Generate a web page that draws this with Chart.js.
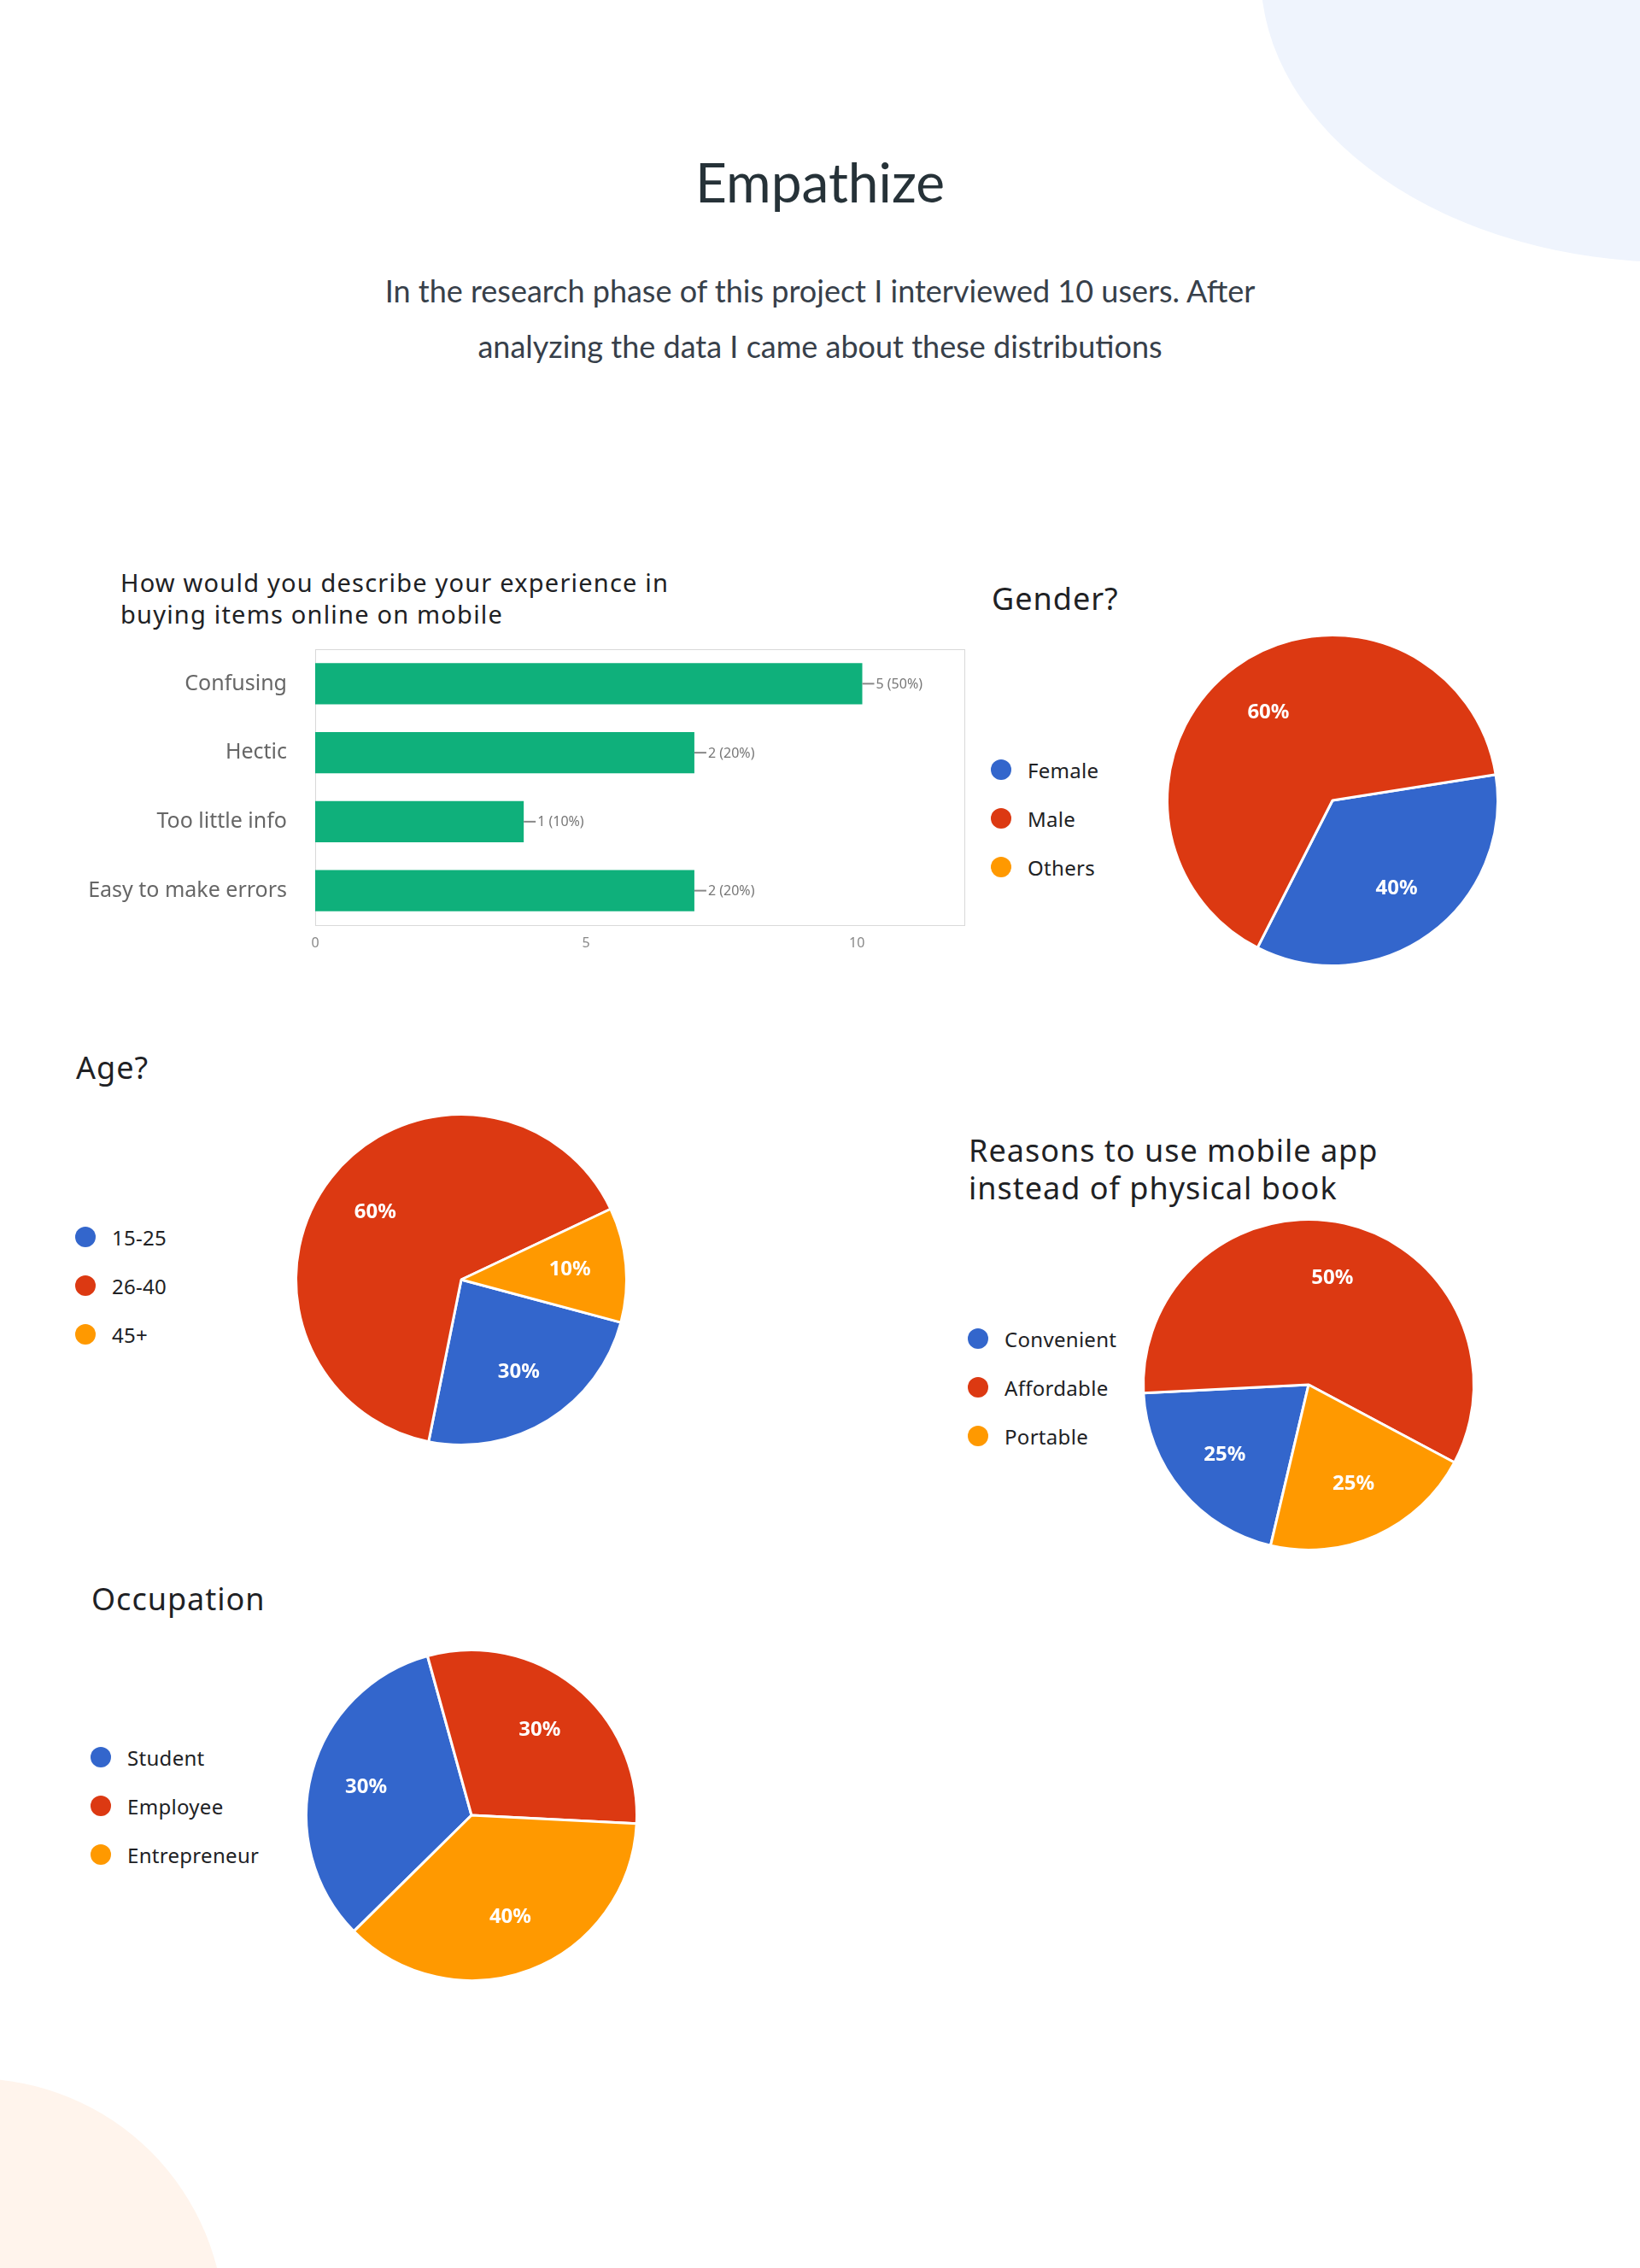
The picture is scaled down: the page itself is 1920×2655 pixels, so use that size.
<!DOCTYPE html>
<html>
<head>
<meta charset="utf-8">
<title>Empathize</title>
<script src="https://cdn.jsdelivr.net/npm/chart.js@4.4.1/dist/chart.umd.min.js"></script>
<style>
  html, body { margin: 0; padding: 0; }
  body {
    width: 1920px; height: 2655px; position: relative; overflow: hidden;
    background: #fff; font-family: "Noto Sans", sans-serif; color: #202124;
  }
  .blob-top { position: absolute; left: 1476px; top: -367px; width: 968px; height: 674px;
    border-radius: 50%; background: #eff4fd; }
  .blob-bottom { position: absolute; left: -325px; top: 2433px; width: 588px; height: 588px;
    border-radius: 50%; background: #fff4ec; }
  h1 { position: absolute; left: 0; top: 181px; width: 1920px; margin: 0; text-align: center;
    font: 400 64px/1 Lato, sans-serif; color: #263238; }
  .intro { position: absolute; left: 0; top: 308px; width: 1920px; margin: 0; text-align: center;
    font: 400 36px/65px Lato, sans-serif; color: #37404a; }
  .q { position: absolute; margin: 0; font-weight: 400; color: #202124; letter-spacing: 1px; }
  .q.big { font-size: 36px; line-height: 1; }
  canvas { position: absolute; }
  .legend { position: absolute; }
  .legend div { display: flex; align-items: center; height: 30px; margin-bottom: 27px;
    font-size: 24px; color: #202124; letter-spacing: 0.3px; }
  .legend span.dot { width: 24px; height: 24px; border-radius: 50%; margin-right: 19px; flex: none; }
</style>
</head>
<body>
<div class="blob-top"></div>
<div class="blob-bottom"></div>

<h1>Empathize</h1>
<p class="intro">In the research phase of this project I interviewed 10 users. After<br>analyzing the data I came about these distributions</p>

<p class="q" style="left:141px; top:663px; font-size:29px; line-height:37px; letter-spacing:1.2px;">How would you describe your experience in<br>buying items online on mobile</p>
<canvas id="barChart" width="1070" height="390" style="left:80px; top:741px;"></canvas>

<p class="q big" style="left:1161px; top:683px;">Gender?</p>
<div class="legend" id="genderLegend" style="left:1160px; top:886px;"></div>
<canvas id="genderChart" width="400" height="400" style="left:1360px; top:737px;"></canvas>

<p class="q big" style="left:89px; top:1232px;">Age?</p>
<div class="legend" id="ageLegend" style="left:88px; top:1433px;"></div>
<canvas id="ageChart" width="400" height="400" style="left:340px; top:1298px;"></canvas>

<p class="q" style="left:1134px; top:1325px; font-size:36px; line-height:44px;">Reasons to use mobile app<br>instead of physical book</p>
<div class="legend" id="reasonLegend" style="left:1133px; top:1552px;"></div>
<canvas id="reasonChart" width="400" height="400" style="left:1332px; top:1421px;"></canvas>

<p class="q big" style="left:107px; top:1854px;">Occupation</p>
<div class="legend" id="jobLegend" style="left:106px; top:2042px;"></div>
<canvas id="jobChart" width="400" height="400" style="left:352px; top:1925px;"></canvas>

<script>
// bar chart: lengths as drawn in the picture, printed notes as shown next to each bar
let barLabels = ['Confusing', 'Hectic', 'Too little info', 'Easy to make errors'];
let barLengths = [10.1, 7, 3.85, 7];
let barNotes = ['5 (50%)', '2 (20%)', '1 (10%)', '2 (20%)'];
let barTicks = [0, 5, 10];

// pies: slice sizes as drawn, percentages as printed on the slices
let pieColors = ['#3366cc', '#dc3912', '#ff9900'];

let genderLabels = ['Female', 'Male', 'Others'];
let genderSlices = [35, 65, 0];
let genderText = ['40%', '60%', ''];

let ageLabels = ['15-25', '26-40', '45+'];
let ageSlices = [24, 64.8, 11.2];
let ageText = ['30%', '60%', '10%'];

let reasonLabels = ['Convenient', 'Affordable', 'Portable'];
let reasonSlices = [20.5, 58.6, 20.9];
let reasonText = ['25%', '50%', '25%'];

let jobLabels = ['Student', 'Employee', 'Entrepreneur'];
let jobSlices = [33.1, 30.1, 36.8];
let jobText = ['30%', '30%', '40%'];

Chart.defaults.font.family = '"Noto Sans", sans-serif';
Chart.defaults.animation = false;

// light frame round the plot area
let frame = {
  id: 'frame',
  beforeDraw(chart) {
    let a = chart.chartArea, ctx = chart.ctx;
    ctx.save();
    ctx.strokeStyle = '#d9d9d9';
    ctx.lineWidth = 1;
    ctx.strokeRect(a.left + 0.5, a.top + 0.5, a.right - a.left - 1, a.bottom - a.top);
    ctx.restore();
  }
};

// "n (x%)" note with a short lead line at the end of each bar
let barNoteText = {
  id: 'barNoteText',
  afterDatasetsDraw(chart) {
    let ctx = chart.ctx;
    ctx.save();
    ctx.font = '16px "Noto Sans", sans-serif';
    ctx.fillStyle = '#777';
    ctx.strokeStyle = '#888';
    ctx.lineWidth = 2;
    ctx.textBaseline = 'middle';
    chart.getDatasetMeta(0).data.forEach((bar, i) => {
      ctx.beginPath();
      ctx.moveTo(bar.x, bar.y);
      ctx.lineTo(bar.x + 14, bar.y);
      ctx.stroke();
      ctx.fillText(barNotes[i], bar.x + 16, bar.y + 1);
    });
    ctx.restore();
  }
};

new Chart(document.getElementById('barChart'), {
  type: 'bar',
  data: {
    labels: barLabels,
    datasets: [{
      data: barLengths,
      backgroundColor: '#0fb07b',
      barPercentage: 0.6,
      categoryPercentage: 1
    }]
  },
  options: {
    indexAxis: 'y',
    responsive: false,
    events: [],
    layout: { padding: { top: 19, right: 20, left: 0, bottom: 0 } },
    scales: {
      x: {
        min: 0, max: 12,
        afterBuildTicks: s => { s.ticks = barTicks.map(v => ({ value: v })); },
        afterFit: s => { s.height = 48; s.paddingLeft = 0; s.paddingRight = 0; },
        grid: { display: false, drawTicks: false },
        border: { display: false },
        ticks: { color: '#888', font: { size: 16 }, padding: 12 }
      },
      y: {
        afterFit: s => { s.width = 289; s.paddingTop = 0; s.paddingBottom = 0; },
        grid: { display: false, drawTicks: false },
        border: { display: false },
        ticks: { color: '#666', font: { size: 25 }, padding: 33 }
      }
    },
    plugins: { legend: { display: false }, tooltip: { enabled: false } }
  },
  plugins: [frame, barNoteText]
});

function sliceText(texts) {
  return {
    id: 'sliceText',
    afterDatasetsDraw(chart) {
      let ctx = chart.ctx;
      ctx.save();
      ctx.font = 'bold 24px "Noto Sans", sans-serif';
      ctx.fillStyle = '#fff';
      ctx.textAlign = 'center';
      ctx.textBaseline = 'middle';
      chart.getDatasetMeta(0).data.forEach((arc, i) => {
        if (!texts[i]) return;
        let p = arc.getProps(['x', 'y', 'startAngle', 'endAngle', 'outerRadius']);
        let mid = (p.startAngle + p.endAngle) / 2;
        let r = p.outerRadius * 0.66;
        ctx.fillText(texts[i], p.x + Math.cos(mid) * r, p.y + Math.sin(mid) * r);
      });
      ctx.restore();
    }
  };
}

function makeLegend(id, labels) {
  let box = document.getElementById(id);
  labels.forEach((name, i) => {
    let row = document.createElement('div');
    let dot = document.createElement('span');
    dot.className = 'dot';
    dot.style.background = pieColors[i];
    row.appendChild(dot);
    row.appendChild(document.createTextNode(name));
    box.appendChild(row);
  });
}

function makePie(id, legendId, labels, slices, texts, rotation) {
  new Chart(document.getElementById(id), {
    type: 'pie',
    data: {
      labels: labels,
      datasets: [{
        data: slices,
        backgroundColor: pieColors,
        borderColor: '#fff',
        borderWidth: 3
      }]
    },
    options: {
      responsive: false,
      events: [],
      rotation: rotation,
      layout: { padding: 5 },
      plugins: { legend: { display: false }, tooltip: { enabled: false } }
    },
    plugins: [sliceText(texts)]
  });
  makeLegend(legendId, labels);
}

makePie('genderChart', 'genderLegend', genderLabels, genderSlices, genderText, 81);
makePie('ageChart', 'ageLegend', ageLabels, ageSlices, ageText, 105);
makePie('reasonChart', 'reasonLegend', reasonLabels, reasonSlices, reasonText, 193.3);
makePie('jobChart', 'jobLegend', jobLabels, jobSlices, jobText, 225.4);
</script>
</body>
</html>
